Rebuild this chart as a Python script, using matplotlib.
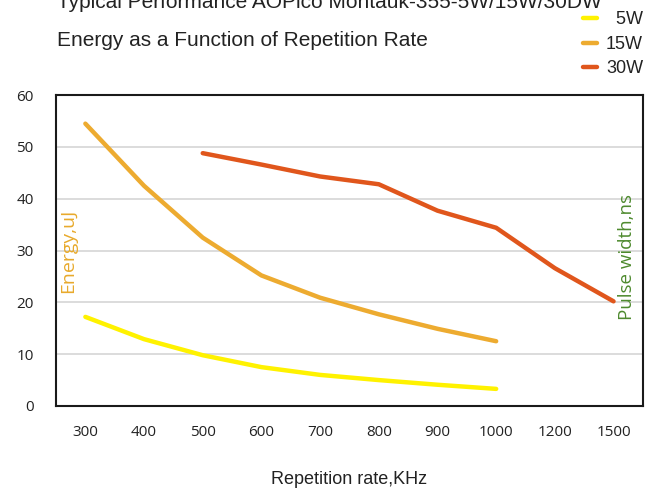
import matplotlib
matplotlib.use("Agg")
import matplotlib.pyplot as plt
import numpy as np

rates = ["300", "400", "500", "600", "700", "800", "900", "1000", "1200", "1500"]
e_5w = [17.2, 12.9, 9.8, 7.5, 6.0, 5.0, 4.1, 3.3]
e_15w = [54.5, 42.5, 32.5, 25.2, 20.9, 17.7, 14.9, 12.5]
e_30w = [48.8, 46.6, 44.3, 42.8, 37.7, 34.4, 26.6, 20.2]

x = np.arange(len(rates))

fig = plt.figure(figsize=(6.56, 4.93), dpi=100)
ax = fig.add_axes([0.0854, 0.1765, 0.8946, 0.6305])

l5, = ax.plot(x[:8], e_5w, color="#FFF200", lw=3.2, solid_capstyle="round")
l15, = ax.plot(x[:8], e_15w, color="#EDAB30", lw=3.2, solid_capstyle="round")
l30, = ax.plot(x[2:], e_30w, color="#E0561C", lw=3.2, solid_capstyle="round")

ax.set_xlim(-0.5, len(rates) - 0.5)
ax.set_ylim(0, 60)
ax.set_yticks(range(0, 61, 10))
ax.set_xticks(x)
ax.set_xticklabels(rates)
ax.grid(axis="y", color="#D9D9D9", lw=1.3)
ax.set_axisbelow(True)
for s in ax.spines.values():
    s.set_linewidth(1.5)
    s.set_color("#1a1a1a")
ax.tick_params(length=0, labelsize=11, pad=14)
ax.tick_params(axis="y", pad=16)
for lab in ax.get_xticklabels() + ax.get_yticklabels():
    lab.set_family("Open Sans")
    lab.set_color("#222222")

ax.set_xlabel("Repetition rate,KHz", fontsize=13, family="Liberation Sans",
              color="#222222", labelpad=22)

ax.text(0.006, 0.5, "Energy,uJ", transform=ax.transAxes, rotation=90,
        ha="left", va="center", fontsize=14, color="#E8AA2C", family="Open Sans")
ax.text(0.973, 0.48, "Pulse width,ns", transform=ax.transAxes, rotation=90,
        ha="center", va="center", fontsize=13.5, color="#4E8A2E", family="Open Sans")

fig.text(0.087, 0.995, "Typical Performance AOPico Montauk-355-5W/15W/30DW",
         fontsize=15, family="Liberation Sans", color="#222222", va="center")
fig.text(0.087, 0.918, "Energy as a Function of Repetition Rate",
         fontsize=15, family="Liberation Sans", color="#222222", va="center")

leg = fig.legend([l5, l15, l30], ["\u20075W", "15W", "30W"],
                 loc="upper right", bbox_to_anchor=(1.005, 1.01),
                 frameon=False, handlelength=0.75, handletextpad=0.5,
                 labelspacing=0.42, prop={"family": "Liberation Sans", "size": 13})
for t in leg.get_texts():
    t.set_color("#222222")

fig.savefig("out.png", dpi=100)
